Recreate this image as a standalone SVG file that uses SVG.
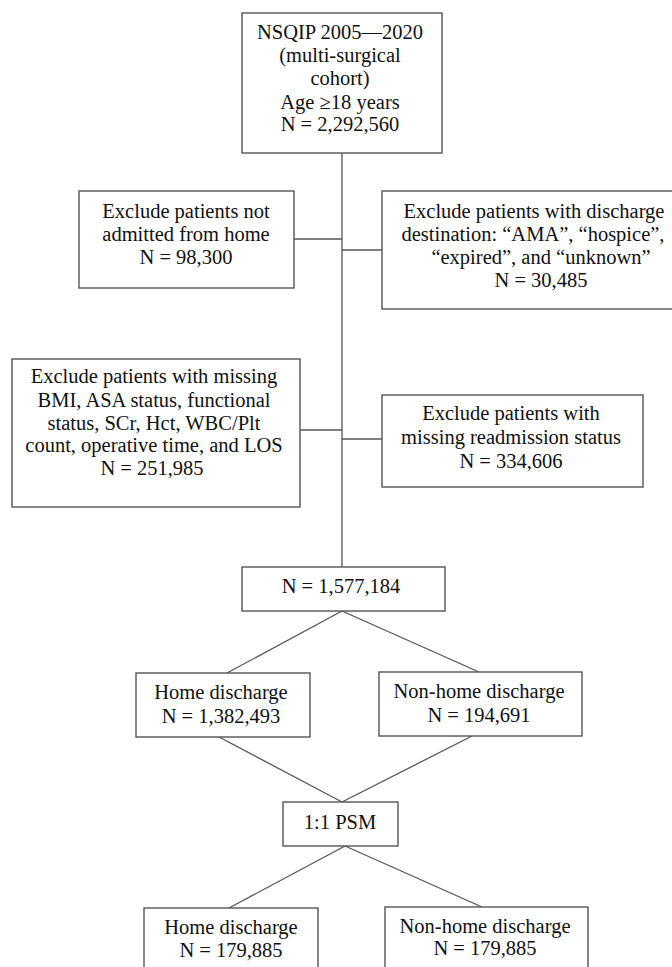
<svg xmlns="http://www.w3.org/2000/svg" width="672" height="967" viewBox="0 0 672 967">
<style>
.box{fill:#fff;stroke:#555;stroke-width:1.4}
.ln{fill:none;stroke:#555;stroke-width:1.3}
text{font-family:"Liberation Serif","Times New Roman",serif;font-size:20.5px;fill:#111;text-anchor:middle}
</style>
<rect width="672" height="967" fill="#fff"/>
<g id="connectors">
<line class="ln" x1="342" y1="153" x2="342" y2="568"/>
<line class="ln" x1="294" y1="239" x2="342" y2="239"/>
<line class="ln" x1="342" y1="250" x2="382" y2="250"/>
<line class="ln" x1="300" y1="430" x2="342" y2="430"/>
<line class="ln" x1="342" y1="439" x2="382" y2="439"/>
<line class="ln" x1="342" y1="611" x2="227" y2="673"/>
<line class="ln" x1="342" y1="611" x2="479" y2="672"/>
<line class="ln" x1="219" y1="737" x2="342" y2="802"/>
<line class="ln" x1="472" y1="736" x2="342" y2="802"/>
<line class="ln" x1="345" y1="846" x2="229" y2="908"/>
<line class="ln" x1="345" y1="846" x2="482" y2="907"/>
</g>
<g id="n-cohort">
<rect class="box" x="242" y="13" width="200" height="140"/>
<text x="340" y="39">NSQIP 2005—2020</text>
<text x="340" y="62">(multi-surgical</text>
<text x="340" y="85">cohort)</text>
<text x="340" y="109">Age ≥18 years</text>
<text x="340" y="131">N = 2,292,560</text>
</g>
<g id="n-excl-home">
<rect class="box" x="79" y="191" width="215" height="97"/>
<text x="186" y="218">Exclude patients not</text>
<text x="186" y="241">admitted from home</text>
<text x="186" y="264">N = 98,300</text>
</g>
<g id="n-excl-discharge">
<rect class="box" x="382" y="191" width="330" height="118"/>
<text x="534" y="218">Exclude patients with discharge</text>
<text x="533" y="241">destination: “AMA”, “hospice”,</text>
<text x="541" y="264">“expired”, and “unknown”</text>
<text x="541" y="287">N = 30,485</text>
</g>
<g id="n-excl-missing">
<rect class="box" x="12" y="359" width="288" height="148"/>
<text x="154" y="383">Exclude patients with missing</text>
<text x="154" y="407">BMI, ASA status, functional</text>
<text x="154" y="430">status, SCr, Hct, WBC/Plt</text>
<text x="154" y="452">count, operative time, and LOS</text>
<text x="152" y="475">N = 251,985</text>
</g>
<g id="n-excl-readm">
<rect class="box" x="382" y="395" width="261" height="92"/>
<text x="511" y="420">Exclude patients with</text>
<text x="511" y="444">missing readmission status</text>
<text x="511" y="468">N = 334,606</text>
</g>
<g id="n-total">
<rect class="box" x="242" y="567" width="203" height="44"/>
<text x="341" y="593">N = 1,577,184</text>
</g>
<g id="n-home">
<rect class="box" x="136" y="673" width="174" height="64"/>
<text x="221" y="699">Home discharge</text>
<text x="221" y="723">N = 1,382,493</text>
</g>
<g id="n-nonhome">
<rect class="box" x="379" y="672" width="203" height="64"/>
<text x="479" y="698">Non-home discharge</text>
<text x="479" y="722">N = 194,691</text>
</g>
<g id="n-psm">
<rect class="box" x="283" y="802" width="115" height="44"/>
<text x="340" y="829">1:1 PSM</text>
</g>
<g id="n-home-psm">
<rect class="box" x="144" y="908" width="174" height="70"/>
<text x="231" y="934">Home discharge</text>
<text x="231" y="957">N = 179,885</text>
</g>
<g id="n-nonhome-psm">
<rect class="box" x="385" y="907" width="203" height="70"/>
<text x="485" y="933">Non-home discharge</text>
<text x="485" y="955">N = 179,885</text>
</g>
</svg>
